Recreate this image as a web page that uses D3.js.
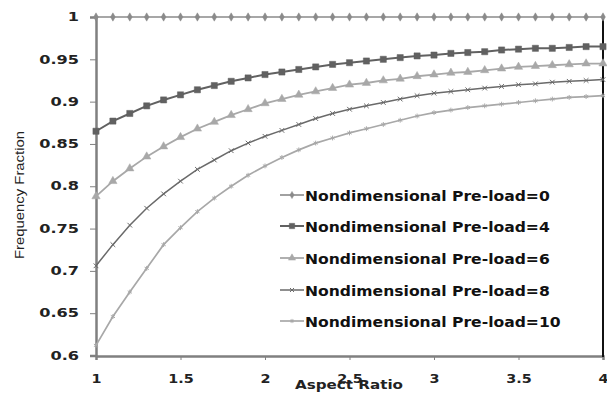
<!DOCTYPE html>
<html><head><meta charset="utf-8">
<script src="https://cdn.jsdelivr.net/npm/d3@7"></script>
<style>body{margin:0;background:#fff}svg{display:block}</style>
</head><body>
<svg id="c" width="607" height="394"></svg>
<script>
const aspectRatio = [1.0,1.1,1.2,1.3,1.4,1.5,1.6,1.7,1.8,1.9,2.0,2.1,2.2,2.3,2.4,2.5,2.6,2.7,2.8,2.9,3.0,3.1,3.2,3.3,3.4,3.5,3.6,3.7,3.8,3.9,4.0];
const preload0  = [1,1,1,1,1,1,1,1,1,1,1,1,1,1,1,1,1,1,1,1,1,1,1,1,1,1,1,1,1,1,1];
const preload4  = [0.865,0.877,0.886,0.895,0.902,0.908,0.914,0.919,0.924,0.928,0.932,0.935,0.938,0.941,0.944,0.946,0.948,0.950,0.952,0.954,0.955,0.957,0.958,0.959,0.961,0.962,0.963,0.963,0.964,0.965,0.965];
const preload6  = [0.788,0.806,0.821,0.835,0.847,0.858,0.868,0.876,0.884,0.891,0.898,0.903,0.908,0.912,0.916,0.920,0.922,0.925,0.927,0.930,0.932,0.934,0.935,0.937,0.939,0.941,0.942,0.943,0.944,0.945,0.945];
const preload8  = [0.706,0.731,0.754,0.774,0.791,0.806,0.820,0.831,0.842,0.851,0.859,0.866,0.873,0.880,0.886,0.891,0.895,0.899,0.903,0.907,0.910,0.912,0.914,0.916,0.918,0.920,0.921,0.923,0.924,0.925,0.926];
const preload10 = [0.612,0.646,0.675,0.703,0.731,0.751,0.770,0.786,0.800,0.813,0.824,0.834,0.843,0.851,0.857,0.863,0.868,0.873,0.878,0.883,0.887,0.890,0.893,0.895,0.897,0.899,0.901,0.903,0.905,0.906,0.907];
const seriesNames = ["Nondimensional Pre-load=0","Nondimensional Pre-load=4","Nondimensional Pre-load=6","Nondimensional Pre-load=8","Nondimensional Pre-load=10"];
const xTicks = [1,1.5,2,2.5,3,3.5,4];
const yTicks = [0.6,0.65,0.7,0.75,0.8,0.85,0.9,0.95,1];
const xTitle = "Aspect Ratio";
const yTitle = "Frequency Fraction";

const seriesValues = [preload0, preload4, preload6, preload8, preload10];
const styles = [
  {color:"#8a8a8a", sym:d3.symbolDiamond, size:20, fill:true, w:1.6},
  {color:"#616161", sym:d3.symbolSquare, size:38, fill:true, w:2},
  {color:"#a8a8a8", sym:d3.symbolTriangle, size:30, fill:true, w:1.8},
  {color:"#6a6a6a", sym:d3.symbolTimes, size:16, fill:false, w:1.5},
  {color:"#a8a8a8", sym:d3.symbolAsterisk, size:16, fill:false, w:1.7}
];

const svg = d3.select("#c");
const x = d3.scaleLinear().domain([1,4]).range([96,603]);
const y = d3.scaleLinear().domain([0.6,1]).range([355.5,17]);

function stretch(sel, factor){
  sel.each(function(){
    const n = this.getComputedTextLength();
    d3.select(this).attr("textLength", n*factor).attr("lengthAdjust","spacingAndGlyphs");
  });
}

// y axis
const ya = svg.append("g").attr("transform","translate(96,0)")
  .call(d3.axisLeft(y).tickValues(yTicks).tickFormat(d=>String(+d.toFixed(2))).tickSize(6).tickPadding(11));
ya.select(".domain").attr("stroke","#808080").attr("stroke-width",2.5);
ya.selectAll(".tick line").attr("stroke","#808080").attr("stroke-width",1);
ya.selectAll(".tick text").attr("font-family","DejaVu Sans").attr("font-weight","bold").attr("font-size","11.5px").attr("fill","#222").call(stretch,1.4);

// x axis
const xa = svg.append("g").attr("transform","translate(0,356)")
  .call(d3.axisBottom(x).tickValues(xTicks).tickFormat(d=>String(d)).tickSize(4).tickPadding(15));
xa.select(".domain").attr("stroke","#808080").attr("stroke-width",2.5);
xa.selectAll(".tick line").attr("stroke","#808080").attr("stroke-width",1);
xa.selectAll(".tick text").attr("font-family","DejaVu Sans").attr("font-weight","bold").attr("font-size","11.5px").attr("fill","#222").call(stretch,1.25);

// right border
svg.append("line").attr("x1",603).attr("x2",603).attr("y1",y(1)).attr("y2",357)
  .attr("stroke","#111").attr("stroke-width",2);

// series
const line = d3.line().x((d,i)=>x(aspectRatio[i])).y(d=>y(d));
seriesValues.forEach((vals,k)=>{
  const s = styles[k];
  const g = svg.append("g");
  g.append("path").attr("d",line(vals)).attr("fill","none").attr("stroke",s.color).attr("stroke-width",s.w);
  const sym = d3.symbol().type(s.sym).size(s.size);
  g.selectAll("path.m").data(vals).join("path").attr("class","m")
    .attr("transform",(d,i)=>`translate(${x(aspectRatio[i])},${y(d)})`)
    .attr("d",sym())
    .attr("fill", s.fill ? s.color : "none")
    .attr("stroke", s.color).attr("stroke-width", s.fill?0.5:1);
});

// legend
const legY = [195,226,258,290,321];
seriesNames.forEach((name,k)=>{
  const s = styles[k];
  const g = svg.append("g").attr("transform",`translate(0,${legY[k]})`);
  g.append("line").attr("x1",280).attr("x2",304).attr("y1",0).attr("y2",0).attr("stroke",s.color).attr("stroke-width",s.w);
  g.append("path").attr("transform","translate(292,0)").attr("d",d3.symbol().type(s.sym).size(s.size*0.75)())
    .attr("fill", s.fill ? s.color : "none").attr("stroke", s.color).attr("stroke-width", s.fill?0.5:1);
  const t = g.append("text").attr("x",305).attr("y",5.5).text(name)
    .attr("font-family","DejaVu Sans").attr("font-weight","bold").attr("font-size","14.5px").attr("fill","#111");
  stretch(t, 1.075);
});

// axis titles
svg.append("text").attr("x",349).attr("y",389).attr("text-anchor","middle").text(xTitle)
  .attr("font-family","DejaVu Sans").attr("font-weight","bold").attr("font-size","12px").attr("fill","#222")
  .attr("textLength",108).attr("lengthAdjust","spacingAndGlyphs");
svg.append("text").attr("transform","translate(24,195) rotate(-90)").attr("text-anchor","middle").text(yTitle)
  .attr("font-family","Liberation Sans").attr("font-size","12.5px").attr("fill","#222")
  .attr("textLength",128).attr("lengthAdjust","spacingAndGlyphs");
</script>
</body></html>
